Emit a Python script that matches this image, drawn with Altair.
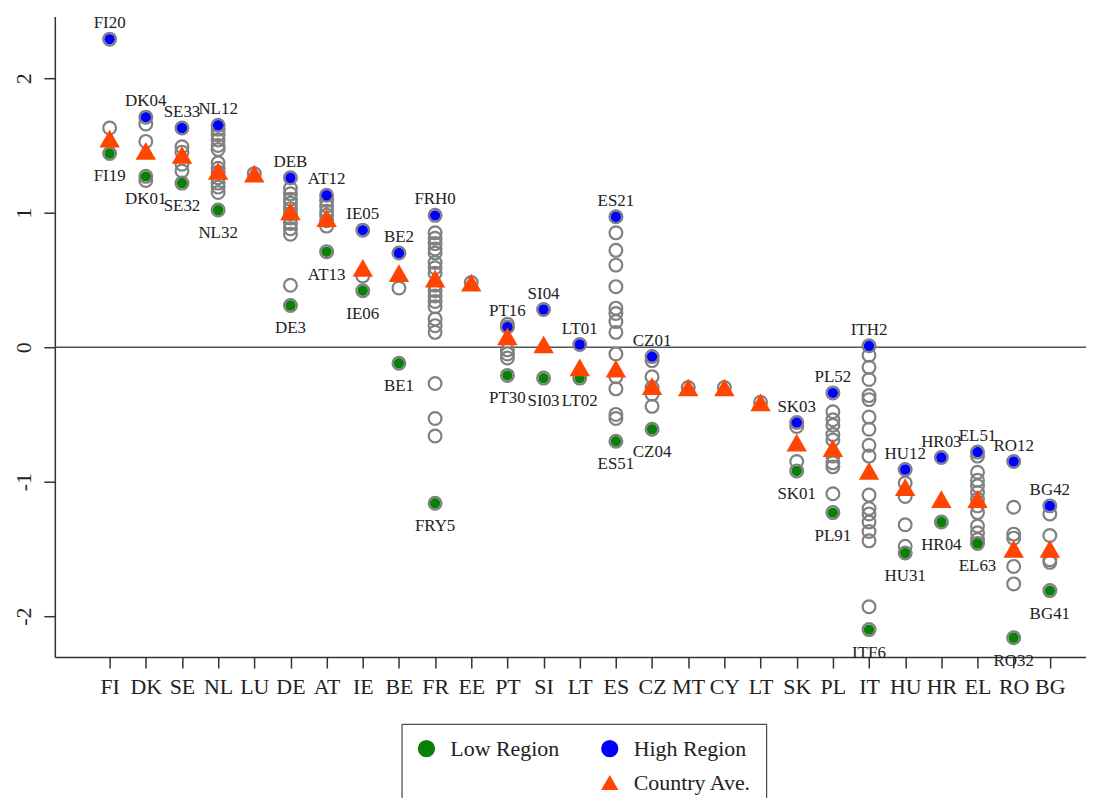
import altair as alt
import pandas as pd

countries = ["FI", "DK", "SE", "NL", "LU", "DE", "AT", "IE", "BE", "FR", "EE", "PT", "SI", "LT",
             "ES", "CZ", "MT", "CY", "LT", "SK", "PL", "IT", "HU", "HR", "EL", "RO", "BG"]

high_labels = ["FI20", "DK04", "SE33", "NL12", "", "DEB", "AT12", "IE05", "BE2", "FRH0", "", "PT16",
               "SI04", "LT01", "ES21", "CZ01", "", "", "", "SK03", "PL52", "ITH2", "HU12", "HR03",
               "EL51", "RO12", "BG42"]
high_vals = [2.29, 1.71, 1.63, 1.65, None, 1.26, 1.13, 0.87, 0.70, 0.98, None, 0.15, 0.28, 0.02,
             0.97, -0.07, None, None, None, -0.56, -0.34, 0.01, -0.91, -0.82, -0.78, -0.85, -1.18]

low_labels = ["FI19", "DK01", "SE32", "NL32", "", "DE3", "AT13", "IE06", "BE1", "FRY5", "", "PT30",
              "SI03", "LT02", "ES51", "CZ04", "", "", "", "SK01", "PL91", "ITF6", "HU31", "HR04",
              "EL63", "RO32", "BG41"]
low_vals = [1.44, 1.27, 1.22, 1.02, None, 0.31, 0.71, 0.42, -0.12, -1.16, None, -0.21, -0.23, -0.23,
            -0.70, -0.61, None, None, None, -0.92, -1.23, -2.10, -1.53, -1.30, -1.46, -2.16, -1.81]

avg_vals = [1.55, 1.46, 1.43, 1.31, 1.29, 1.01, 0.96, 0.59, 0.55, 0.51, 0.48, 0.08, 0.02, -0.15,
            -0.16, -0.29, -0.30, -0.30, -0.41, -0.71, -0.75, -0.92, -1.04, -1.13, -1.13, -1.50, -1.50]

other_regions = [
    [1.63],
    [1.66, 1.53, 1.24],
    [1.49, 1.45, 1.36, 1.31],
    [1.62, 1.58, 1.54, 1.50, 1.47, 1.37, 1.33, 1.30, 1.26, 1.22, 1.19, 1.15],
    [1.29],
    [1.18, 1.14, 1.10, 1.07, 1.03, 0.99, 0.96, 0.92, 0.88, 0.84, 0.46],
    [1.09, 1.05, 1.01, 0.98, 0.94, 0.90],
    [0.53],
    [0.44],
    [0.85, 0.81, 0.77, 0.73, 0.70, 0.63, 0.59, 0.55, 0.46, 0.42, 0.38, 0.34, 0.30, 0.21, 0.16,
     0.11, -0.27, -0.53, -0.66],
    [0.48],
    [0.17, -0.02, -0.05, -0.08],
    [],
    [],
    [0.85, 0.72, 0.61, 0.45, 0.29, 0.25, 0.19, 0.11, -0.05, -0.22, -0.31, -0.50, -0.53],
    [-0.10, -0.22, -0.30, -0.35, -0.44],
    [-0.30],
    [-0.30],
    [-0.41],
    [-0.59, -0.85],
    [-0.48, -0.54, -0.58, -0.65, -0.69, -0.81, -0.86, -0.89, -1.09],
    [-0.06, -0.15, -0.24, -0.36, -0.39, -0.52, -0.61, -0.73, -0.81, -1.10, -1.20, -1.24, -1.30,
     -1.37, -1.44, -1.93],
    [-1.01, -1.11, -1.32, -1.48],
    [],
    [-0.81, -0.93, -0.99, -1.03, -1.08, -1.13, -1.18, -1.23, -1.33, -1.38, -1.43],
    [-1.19, -1.39, -1.42, -1.63, -1.76],
    [-1.24, -1.40, -1.58, -1.60],
]

# legend fills column by column: col 1 = Low Region / (blank), col 2 = High Region / Country Ave.
legend_domain = ["Low Region", " ", "High Region", "Country Ave."]
legend_colors = ["#0a800a", "#ffffff", "#0000ff", "#ff4500"]
legend_shapes = ["circle", "circle", "circle", "triangle-up"]

FONT = "Liberation Serif"

# ---- build tables ----
open_rows = []
for i, vals in enumerate(other_regions):
    for v in vals:
        open_rows.append({"idx": i + 1, "v": v})
ext_rows = []
for i in range(len(countries)):
    if high_vals[i] is not None:
        open_rows.append({"idx": i + 1, "v": high_vals[i]})
        ext_rows.append({"idx": i + 1, "v": high_vals[i], "type": "High Region",
                         "label": high_labels[i]})
    if low_vals[i] is not None:
        open_rows.append({"idx": i + 1, "v": low_vals[i]})
        ext_rows.append({"idx": i + 1, "v": low_vals[i], "type": "Low Region",
                         "label": low_labels[i]})
open_df = pd.DataFrame(open_rows)
ext_df = pd.DataFrame(ext_rows)
avg_df = pd.DataFrame({"idx": list(range(1, len(countries) + 1)), "v": avg_vals,
                       "type": ["Country Ave."] * len(countries)})
zero_df = pd.DataFrame({"v": [0]})

label_expr = "[" + ",".join("'%s'" % c for c in [""] + countries) + "][datum.value]"

x_enc = alt.X("idx:Q",
              scale=alt.Scale(domain=[-0.516, 28.0], nice=False, zero=False),
              axis=alt.Axis(values=list(range(1, len(countries) + 1)), tickCount=60,
                            labelExpr=label_expr, title=None, grid=False, labelPadding=9,
                            labelFontSize=22, labelFlush=False, labelOverlap=False))
y_enc = alt.Y("v:Q",
              scale=alt.Scale(domain=[-2.304, 2.459], nice=False, zero=False),
              axis=alt.Axis(values=[-2, -1, 0, 1, 2], tickCount=10, labelExpr="'' + datum.value",
                            title=None, grid=False, labelAngle=270,
                            labelPadding=8, labelFontSize=22))

leg = alt.Legend(title=None, orient="none", legendX=348, legendY=710, columns=2,
                 strokeColor="#222", padding=14, symbolSize=300, symbolStrokeWidth=0,
                 labelFont=FONT, labelFontSize=22, labelColor="#222", rowPadding=12,
                 columnPadding=39, labelOffset=13)
color_enc = alt.Color("type:N", scale=alt.Scale(domain=legend_domain, range=legend_colors),
                      legend=leg)
shape_enc = alt.Shape("type:N", scale=alt.Scale(domain=legend_domain, range=legend_shapes),
                      legend=leg)

zero_line = alt.Chart(zero_df).mark_rule(color="#555", strokeWidth=1.5).encode(y=alt.Y("v:Q"))

open_pts = alt.Chart(open_df).mark_point(shape="circle", filled=False, size=165,
                                         strokeWidth=2.2, color="#808080", opacity=1).encode(
    x=x_enc, y=y_enc)

ext_pts = alt.Chart(ext_df).mark_point(filled=True, size=110, opacity=1).encode(
    x="idx:Q", y="v:Q", color=color_enc, shape=shape_enc)

avg_pts = alt.Chart(avg_df).mark_point(filled=True, size=420, opacity=1).encode(
    x="idx:Q", y="v:Q", color=color_enc, shape=shape_enc)

high_txt = alt.Chart(ext_df).transform_filter("datum.type == 'High Region'").mark_text(
    font=FONT, fontSize=17, color="#222", baseline="alphabetic", dy=-11).encode(
    x="idx:Q", y="v:Q", text="label:N")
low_txt = alt.Chart(ext_df).transform_filter("datum.type == 'Low Region'").mark_text(
    font=FONT, fontSize=17, color="#222", baseline="alphabetic", dy=28).encode(
    x="idx:Q", y="v:Q", text="label:N")

chart = alt.layer(zero_line, open_pts, ext_pts, avg_pts, high_txt, low_txt).properties(
    width=1035, height=643,
    autosize=alt.AutoSizeParams(type="none"),
    padding={"left": 47, "top": 7, "right": 0, "bottom": 140},
).configure_view(stroke=None).configure_axis(
    domainColor="#333", tickColor="#333", labelColor="#222", labelFont=FONT,
    tickSize=11, domainWidth=1.5, tickWidth=1.5,
)

chart.save("out.html", embed_options={"renderer": "svg", "actions": False})
